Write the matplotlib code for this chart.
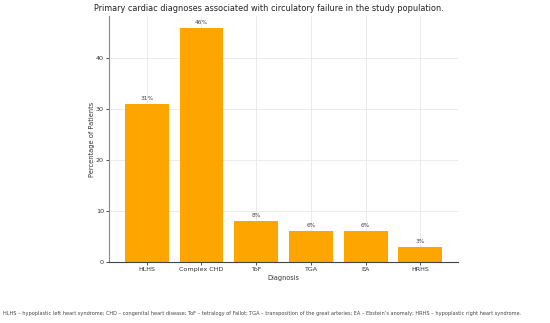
import matplotlib.pyplot as plt

# diagnoses and percentages
diagnoses = ["HLHS", "Complex CHD", "ToF", "TGA", "EA", "HRHS"]
percentages = [31, 46, 8, 6, 6, 3]
yticks = [0, 10, 20, 30, 40]

footnote = ("HLHS – hypoplastic left heart syndrome; CHD – congenital heart disease; "
            "ToF – tetralogy of Fallot; TGA – transposition of the great arteries; "
            "EA – Ebstein’s anomaly; HRHS – hypoplastic right heart syndrome.")

fig = plt.figure(figsize=(5.5, 3.23), dpi=100)
ax = fig.add_axes([0.198, 0.189, 0.635, 0.761])

bars = ax.bar(diagnoses, percentages, color="orange", width=0.8, zorder=2)
for b, v in zip(bars, percentages):
    ax.text(b.get_x() + b.get_width() / 2, v + 0.6, f"{v}%",
            ha="center", va="bottom", fontsize=4.2, color="#444444")

ax.set_ylim(0, 48.3)
ax.set_yticks(yticks)
ax.grid(True, color="#e8e8e8", linewidth=0.6, zorder=0)
ax.tick_params(labelsize=4.6, length=2, width=0.6, colors="#333333", pad=1.5)
for s in ["top", "right"]:
    ax.spines[s].set_visible(False)
ax.spines["left"].set_color("#888888")
ax.spines["left"].set_linewidth(0.8)
ax.spines["bottom"].set_color("#444444")
ax.spines["bottom"].set_linewidth(0.8)

ax.set_xlabel("Diagnosis", fontsize=4.7, color="#333333", labelpad=2)
ax.set_ylabel("Percentage of Patients", fontsize=4.8, color="#333333", labelpad=1)
ax.set_title("Primary cardiac diagnoses associated with circulatory failure in the study population.",
             fontsize=5.9, color="#222222", pad=4, x=0.458)

fig.text(0.006, 0.03, footnote, fontsize=3.65, color="#444444", ha="left", va="center")

fig.savefig("out.png", dpi=100)
